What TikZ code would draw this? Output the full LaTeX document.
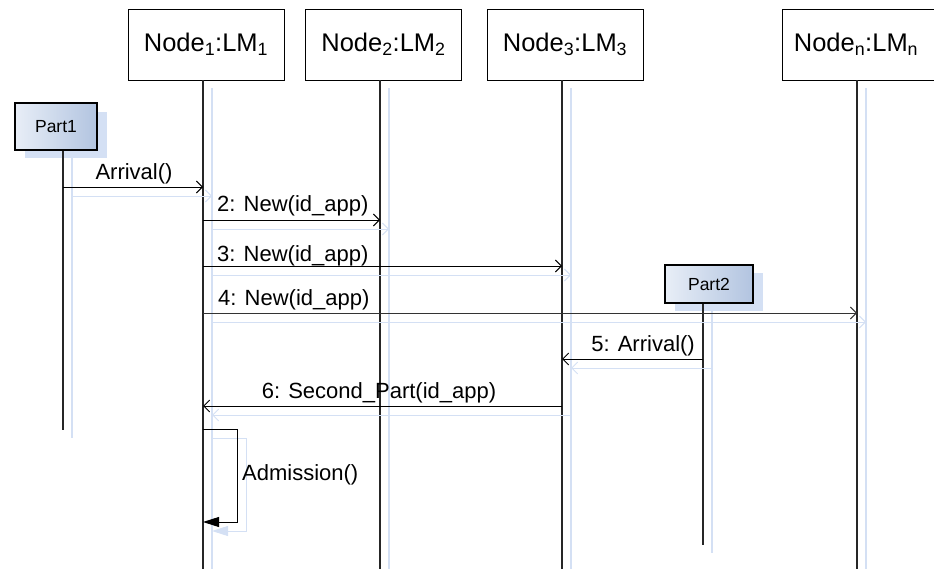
\documentclass[tikz,border=0pt]{standalone}
\usepackage{fontspec}
\setmainfont{Liberation Sans}
\usetikzlibrary{arrows.meta}
\definecolor{shad}{RGB}{212,224,244}
\definecolor{partA}{RGB}{232,238,247}
\definecolor{partB}{RGB}{178,196,224}
\tikzset{
  hdr/.style={draw=black, line width=0.9pt, fill=white, minimum width=156pt, minimum height=71pt, inner sep=0pt,
    font=\fontsize{25.5}{30}\selectfont},
  partbox/.style={draw=black, line width=1.6pt, shading=axis, shading angle=135, left color=partA, right color=partB,
    inner sep=0pt, font=\fontsize{17.5}{20}\selectfont},
  partshadow/.style={fill=shad, draw=none},
  life/.style={line width=1.4pt, draw=black!85},
  lifesh/.style={line width=1.4pt, draw=shad},
  msg/.style={line width=0.9pt, -{Straight Barb[length=6pt,width=12pt,line width=0.9pt]}},
  msgsh/.style={line width=0.9pt, draw=shad, -{Straight Barb[length=6pt,width=12pt,line width=0.9pt]}},
  lbl/.style={font=\fontsize{22}{26}\selectfont, inner sep=0pt},
}
\begin{document}
\begin{tikzpicture}[x=1pt,y=-1pt]
\useasboundingbox (0,0) rectangle (934,569);
% lifeline x positions
\coordinate (x1) at (203,0);
\coordinate (x2) at (380,0);
\coordinate (x3) at (562,0);
\coordinate (xn) at (857,0);
\coordinate (xp1) at (63,0);
\coordinate (xp2) at (703,0);

% lifeline shadows
\draw[lifesh] (212,88) -- (212,569);
\draw[lifesh] (389,88) -- (389,569);
\draw[lifesh] (571,88) -- (571,569);
\draw[lifesh] (866,88) -- (866,569);
\draw[lifesh] (72,158) -- (72,438);
\draw[lifesh] (712,311) -- (712,553);

% header boxes
\node[hdr] (n1) at (206,44.5) {Node\textsubscript{1}:LM\textsubscript{1}};
\node[hdr] (n2) at (383.5,44.5) {Node\textsubscript{2}:LM\textsubscript{2}};
\node[hdr] (n3) at (565,44.5) {Node\textsubscript{3}:LM\textsubscript{3}};
\node[hdr] (nn) at (860,44.5) {};
\node[font=\fontsize{25.5}{30}\selectfont, inner sep=0pt] (nnt) at (856,44.5) {Node\textsubscript{n}:LM\textsubscript{n}};

% part boxes with shadows
\fill[partshadow] (25,112) rectangle (107,158);
\node[partbox, minimum width=82pt, minimum height=47pt] (p1) at (56,126.5) {Part1};
\fill[partshadow] (675,273) rectangle (763,311);
\node[partbox, minimum width=88pt, minimum height=38pt] (p2) at (709,284) {Part2};

% lifelines
\draw[life] (n1.south -| x1) -- (203,569) coordinate (b1);
\draw[life] (n2.south -| x2) -- (380,569) coordinate (b2);
\draw[life] (n3.south -| x3) -- (562,569) coordinate (b3);
\draw[life] (nn.south -| xn) -- (857,569) coordinate (bn);
\draw[life] (p1.south -| xp1) -- (63,430) coordinate (bp1);
\draw[life] (p2.south -| xp2) -- (703,545) coordinate (bp2);

% message endpoints
\coordinate (m1s) at (63,187);  \coordinate (m1e) at (203,187);
\coordinate (m2s) at (203,220); \coordinate (m2e) at (380,220);
\coordinate (m3s) at (203,266); \coordinate (m3e) at (562,266);
\coordinate (m4s) at (203,313); \coordinate (m4e) at (857,313);
\coordinate (m5s) at (703,359); \coordinate (m5e) at (562,359);
\coordinate (m6s) at (562,406); \coordinate (m6e) at (203,406);

% message shadows
\draw[msgsh] ([shift={(9,9)}]m1s) -- ([shift={(9,9)}]m1e);
\draw[msgsh] ([shift={(9,9)}]m2s) -- ([shift={(9,9)}]m2e);
\draw[msgsh] ([shift={(9,9)}]m3s) -- ([shift={(9,9)}]m3e);
\draw[msgsh] ([shift={(9,9)}]m4s) -- ([shift={(9,9)}]m4e);
\draw[msgsh] ([shift={(9,9)}]m5s) -- ([shift={(9,9)}]m5e);
\draw[msgsh] ([shift={(9,9)}]m6s) -- ([shift={(9,9)}]m6e);
\draw[line width=0.9pt, draw=shad, -{Triangle[length=16pt,width=10pt]}] (212,438) -- (246,438) -- (246,531) -- (212,531);

% messages
\draw[msg] (m1s) -- (m1e);
\draw[msg] (m2s) -- (m2e);
\draw[msg] (m3s) -- (m3e);
\draw[msg, draw=black!80] (m4s) -- (m4e);
\draw[msg] (m5s) -- (m5e);
\draw[msg] (m6s) -- (m6e);
\coordinate (sa) at (203,429);
\coordinate (sb) at (203,522);
\draw[line width=0.9pt, -{Triangle[length=16pt,width=10pt]}] (sa) -- (237,429) -- (237,522) -- (sb);

% labels
\node[lbl] (l1) at (134,174) {Arrival()};
\node[lbl, anchor=west] (l2) at (217,206) {2: New(id\_app)};
\node[lbl, anchor=west] (l3) at (217,256) {3: New(id\_app)};
\node[lbl, anchor=west] (l4) at (218,300) {4: New(id\_app)};
\node[lbl, anchor=east] (l5) at (695,346) {5: Arrival()};
\node[lbl] (l6) at (379,393) {6: Second\_Part(id\_app)};
\node[lbl, anchor=west] (l7) at (242,475) {Admission()};
\end{tikzpicture}
\end{document}
